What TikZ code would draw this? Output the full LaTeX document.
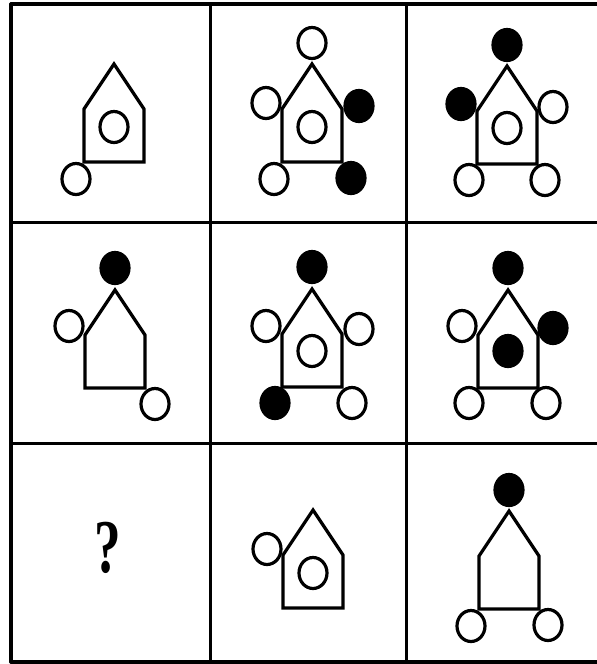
\documentclass[tikz,border=0pt]{standalone}
\usepackage{fontspec}
\newfontfamily\qfont{Liberation Serif}
\usepackage{tikz}
\usetikzlibrary{calc,shapes.geometric}

\begin{document}
\begin{tikzpicture}[x=1pt, y=-1pt,
  framerule/.style={line width=3.2pt, line cap=round},
  wall/.style={line width=3.2pt, line join=miter},
  wh/.style={draw, fill=white, ellipse, line width=3.2pt, inner sep=0pt,
    minimum width=28pt, minimum height=31pt},
  bk/.style={wh, fill=black}
]
\useasboundingbox (0,0) rectangle (597,664);

% grid
\foreach \gx in {11,210.5,406.5}
  \draw[framerule] (\gx,4) -- (\gx,662);
\foreach \gy in {4,222.5,443.5,662}
  \draw[framerule] (11,\gy) -- (610,\gy);

% house outlines
\foreach \c/\px/\py in {c1/114/64, c2/312/64, c3/507/66,
                        c4/115/290, c5/312/289, c6/508/290,
                        c8/313/510, c9/509/511}{
  \coordinate (\c-pk) at (\px,\py);
  \coordinate (\c-sl) at (\px-30,\py+45);
  \coordinate (\c-sr) at (\px+30,\py+45);
  \coordinate (\c-bl) at (\px-30,\py+98);
  \coordinate (\c-br) at (\px+30,\py+98);
  \draw[wall] (\c-bl) -- (\c-sl) -- (\c-pk) -- (\c-sr) -- (\c-br) -- cycle;
}

% row 1
\node[wh] (c1-in) at ($(c1-pk)+(0,63)$) {};
\node[wh] (c1-lo) at ($(c1-bl)+(-8,17)$) {};

\node[wh] (c2-top) at ($(c2-pk)+(0,-21)$) {};
\node[wh] (c2-l)   at ($(c2-sl)+(-16,-6)$) {};
\node[bk] (c2-r)   at ($(c2-sr)+(17,-3)$) {};
\node[wh] (c2-in)  at ($(c2-pk)+(0,63)$) {};
\node[wh] (c2-lo)  at ($(c2-bl)+(-8,17)$) {};
\node[bk] (c2-ro)  at ($(c2-br)+(9,16)$) {};

\node[bk] (c3-top) at ($(c3-pk)+(0,-21)$) {};
\node[bk] (c3-l)   at ($(c3-sl)+(-16,-7)$) {};
\node[wh] (c3-r)   at ($(c3-sr)+(16,-4)$) {};
\node[wh] (c3-in)  at ($(c3-pk)+(0,62)$) {};
\node[wh] (c3-lo)  at ($(c3-bl)+(-8,16)$) {};
\node[wh] (c3-ro)  at ($(c3-br)+(8,16)$) {};

% row 2
\node[bk] (c4-top) at ($(c4-pk)+(0,-22)$) {};
\node[wh] (c4-l)   at ($(c4-sl)+(-16,-9)$) {};
\node[wh] (c4-ro)  at ($(c4-br)+(10,16)$) {};

\node[bk] (c5-top) at ($(c5-pk)+(0,-22)$) {};
\node[wh] (c5-l)   at ($(c5-sl)+(-16,-8)$) {};
\node[wh] (c5-r)   at ($(c5-sr)+(17,-5)$) {};
\node[wh] (c5-in)  at ($(c5-pk)+(0,62)$) {};
\node[bk] (c5-lo)  at ($(c5-bl)+(-7,16)$) {};
\node[wh] (c5-ro)  at ($(c5-br)+(10,16)$) {};

\node[bk] (c6-top) at ($(c6-pk)+(0,-22)$) {};
\node[wh] (c6-l)   at ($(c6-sl)+(-16,-9)$) {};
\node[bk] (c6-r)   at ($(c6-sr)+(15,-7)$) {};
\node[bk] (c6-in)  at ($(c6-pk)+(0,61)$) {};
\node[wh] (c6-lo)  at ($(c6-bl)+(-9,15)$) {};
\node[wh] (c6-ro)  at ($(c6-br)+(8,15)$) {};

% row 3
\node[font=\qfont\bfseries\fontsize{76}{76}\selectfont] (q) at (108,548) {\scalebox{0.7}[1]{?}};

\node[wh] (c8-l)   at ($(c8-sl)+(-16,-6)$) {};
\node[wh] (c8-in)  at ($(c8-pk)+(0,63)$) {};

\node[bk] (c9-top) at ($(c9-pk)+(0,-21)$) {};
\node[wh] (c9-lo)  at ($(c9-bl)+(-8,17)$) {};
\node[wh] (c9-ro)  at ($(c9-br)+(9,16)$) {};
\end{tikzpicture}
\end{document}
